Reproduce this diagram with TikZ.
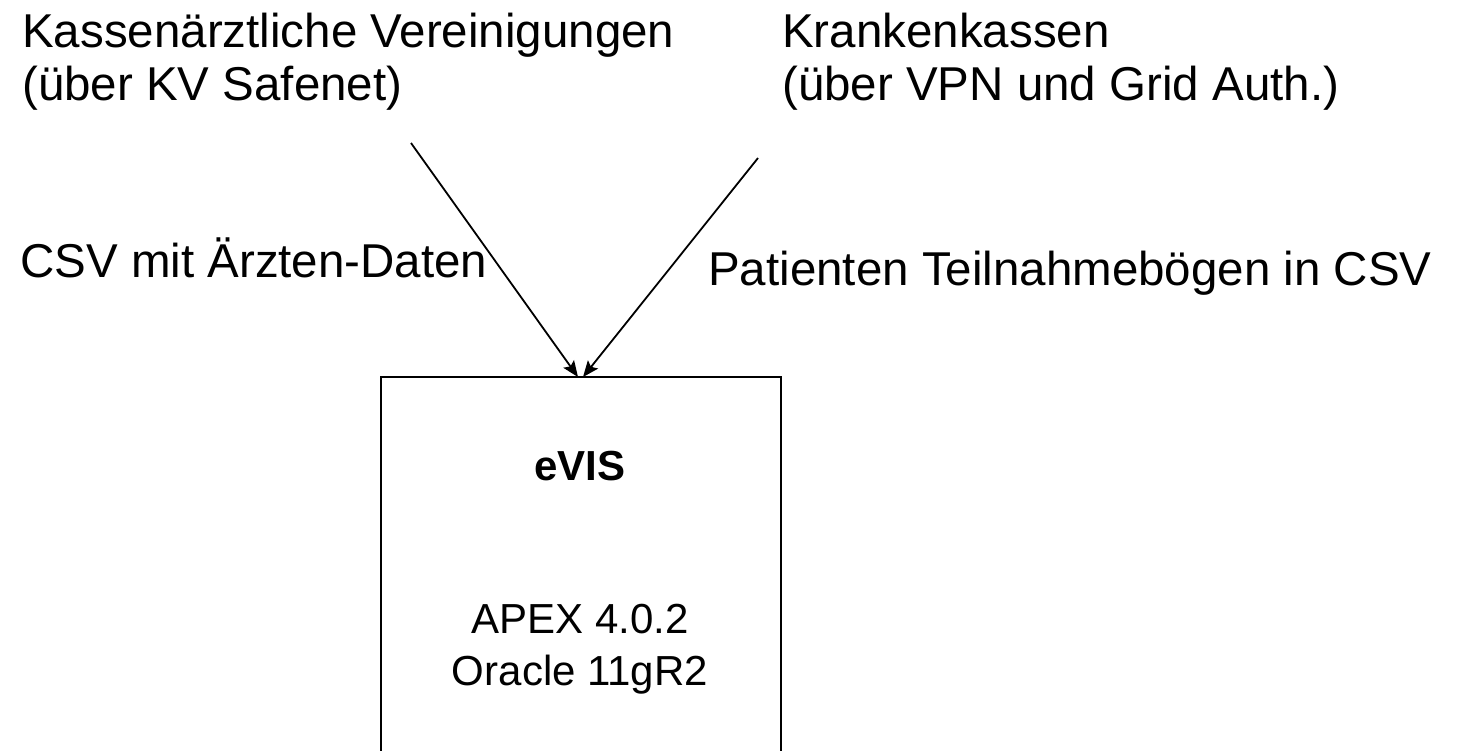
\documentclass[tikz,border=0pt]{standalone}
\usepackage{fontspec}
\setmainfont{Liberation Sans}
\usetikzlibrary{arrows.meta}
\begin{document}
\begin{tikzpicture}[x=1pt,y=-1pt,
  lbl/.style={anchor=base west,inner sep=0pt,font=\fontsize{47.5}{54}\selectfont},
  ctr/.style={anchor=base,inner sep=0pt,font=\fontsize{42}{50}\selectfont},
  arr/.style={line width=1.8pt,-{Stealth[length=16pt,width=13pt,inset=3pt]}},
  boxst/.style={draw,line width=1.5pt}]
\useasboundingbox (0,0) rectangle (1457,750);
\clip (0,0) rectangle (1457,750);
\fill[white] (0,0) rectangle (1457,750);
% box
\draw[boxst] (381,800) -- (381,377) -- (781,377) -- (781,800);
\coordinate (boxL) at (578,377);
\coordinate (boxR) at (583,377);
% texts
\node[lbl] (kv1) at (22,47) {Kassenärztliche Vereinigungen};
\node[lbl] (kv2) at (22,100) {(über KV Safenet)};
\node[lbl] (kk1) at (782,47) {Krankenkassen};
\node[lbl] (kk2) at (782,100) {(über VPN und Grid Auth.)};
\node[lbl] (csv) at (20,277) {CSV mit Ärzten-Daten};
\node[lbl] (pat) at (708,285) {Patienten Teilnahmebögen in CSV};
\node[ctr,font=\fontsize{42}{50}\selectfont\bfseries] (evis) at (580,480) {eVIS};
\node[ctr] (apex) at (580,633) {APEX 4.0.2};
\node[ctr] (ora) at (580,685) {Oracle 11gR2};
% arrows
\coordinate (sL) at (411,143);
\coordinate (sR) at (758,158);
\draw[arr] (sL) -- (boxL);
\draw[arr] (sR) -- (boxR);
\end{tikzpicture}
\end{document}
